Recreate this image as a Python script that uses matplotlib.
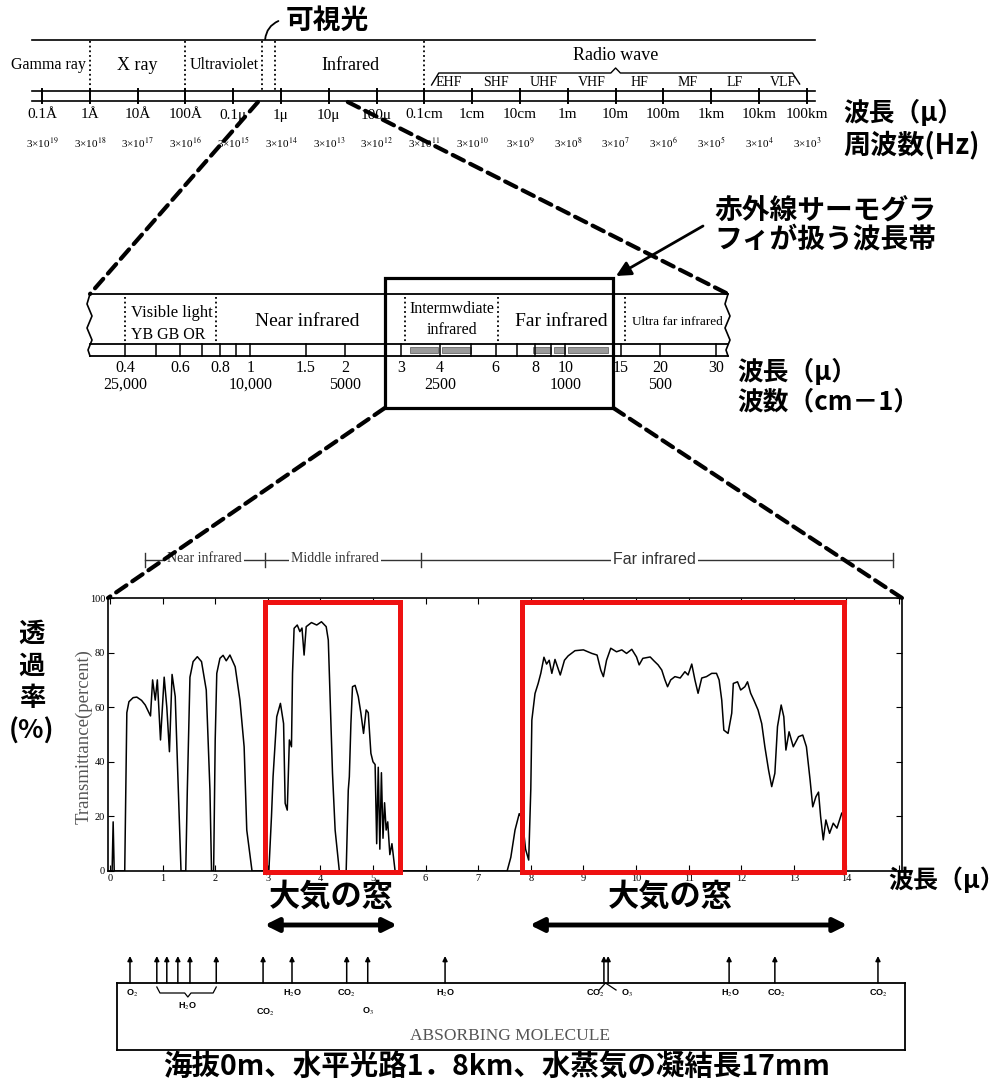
#!/usr/bin/env python3
"""Electromagnetic spectrum -> infrared band -> atmospheric transmittance -> out.png."""

import matplotlib
matplotlib.use("Agg")  # headless
import matplotlib.pyplot as plt
import matplotlib.transforms as mtransforms
from matplotlib.patches import Rectangle, FancyArrowPatch, ConnectionPatch

W, H = 1003, 1088
JP = ["Noto Sans CJK JP", "DejaVu Sans"]
SERIF = ["Liberation Serif", "DejaVu Serif"]
SANS = ["Liberation Sans", "DejaVu Sans"]
plt.rcParams["mathtext.fontset"] = "stix"

# --- top bar: whole spectrum (wavelength in metres)
spec_ticks_m = [1e-11, 1e-10, 1e-9, 1e-8, 1e-7, 1e-6, 1e-5, 1e-4, 1e-3,
                1e-2, 1e-1, 1e0, 1e1, 1e2, 1e3, 1e4, 1e5]
spec_tick_labels = ["0.1Å", "1Å", "10Å", "100Å", "0.1μ", "1μ", "10μ", "100μ",
                    "0.1cm", "1cm", "10cm", "1m", "10m", "100m", "1km", "10km", "100km"]
spec_freq_exp = [19, 18, 17, 16, 15, 14, 13, 12, 11, 10, 9, 8, 7, 6, 5, 4, 3]
spec_dividers_m = [1e-10, 1e-8, 4e-7, 7.5e-7, 1e-3]
spec_regions = ["Gamma ray", "X ray", "Ultraviolet", "Infrared", "Radio wave"]
spec_region_m = [1.35e-11, 1.0e-9, 6.5e-8, 2.8e-5, 10.0]
spec_region_size = [11.5, 13, 11.5, 13, 13]
radio_bands = ["EHF", "SHF", "UHF", "VHF", "HF", "MF", "LF", "VLF"]
radio_band_m = [10 ** -2.5, 10 ** -1.5, 10 ** -0.5, 10 ** 0.5,
                10 ** 1.5, 10 ** 2.5, 10 ** 3.5, 10 ** 4.5]

# --- middle bar: infrared (wavelength in micrometres)
ir_ticks = [0.4, 0.5, 0.6, 0.7, 0.8, 0.9, 1, 1.5, 2, 3, 4, 5, 6, 7, 8, 9, 10, 15, 20, 30]
ir_wl_labels = [0.4, 0.6, 0.8, 1, 1.5, 2, 3, 4, 6, 8, 10, 15, 20, 30]
ir_wn_at = [0.4, 1, 2, 4, 10, 20]
ir_wn_labels = ["25,000", "10,000", "5000", "2500", "1000", "500"]
ir_dividers = [0.4, 0.78, 3.1, 6.1, 15.5]
ir_windows = [(3.2, 3.95), (4.05, 5.0), (7.9, 9.0), (9.2, 10.0), (10.2, 13.6)]
ir_box = (2.67, 14.2)

# --- transmittance spectrum (sea level, 1.8 km path)
wl = [0.00, 0.04, 0.06, 0.08,
      0.28, 0.30, 0.32, 0.36, 0.44, 0.51, 0.60, 0.67, 0.74, 0.77,
      0.81, 0.86, 0.90, 0.96, 1.03, 1.08, 1.13, 1.18, 1.24, 1.30, 1.35,
      1.44, 1.47, 1.52, 1.58, 1.66, 1.74, 1.83, 1.90, 1.93,
      1.97, 2.00, 2.03, 2.09, 2.15, 2.21, 2.28, 2.38, 2.47, 2.55, 2.60, 2.70,
      3.02, 3.07, 3.10, 3.17, 3.24, 3.30, 3.33, 3.37, 3.41, 3.45, 3.47, 3.50,
      3.56, 3.61, 3.65, 3.69, 3.73, 3.83, 3.93, 4.02, 4.11, 4.15, 4.18, 4.23,
      4.28, 4.36,
      4.49, 4.53, 4.55, 4.58, 4.61, 4.66, 4.72, 4.77, 4.82, 4.87, 4.91, 4.96,
      5.00, 5.04, 5.07, 5.10, 5.13, 5.16, 5.19, 5.22, 5.25, 5.28, 5.32, 5.36, 5.42,
      7.55, 7.62, 7.70, 7.78, 7.84, 7.90, 7.96,
      8.00, 8.02, 8.08, 8.14, 8.19, 8.25, 8.30, 8.35, 8.40, 8.46, 8.56, 8.64,
      8.71, 8.84, 9.00, 9.16, 9.26, 9.33, 9.38, 9.44, 9.52, 9.63, 9.73, 9.82,
      9.92, 10.01, 10.06, 10.13, 10.27, 10.34, 10.42, 10.49, 10.55, 10.60,
      10.66, 10.74, 10.84, 10.93, 10.99, 11.06, 11.12, 11.18, 11.25, 11.34,
      11.44, 11.53, 11.58, 11.63, 11.67, 11.75, 11.82, 11.85, 11.93, 11.99,
      12.07, 12.12, 12.18, 12.24, 12.32, 12.39, 12.45, 12.52, 12.58, 12.64,
      12.69, 12.76, 12.81, 12.85, 12.91, 12.99, 13.09, 13.17, 13.24, 13.31,
      13.36, 13.42, 13.47, 13.51, 13.56, 13.61, 13.68, 13.75, 13.82, 13.91, 13.95]
tr = [0, 0, 18, 0,
      0, 30, 58, 62, 63.5, 63.7, 62.5, 60.8, 58, 56.8,
      70, 62.6, 70, 48, 71, 60, 43.7, 72, 63.9, 29.7, 0,
      0, 29.7, 71, 76.7, 78.5, 76.7, 66.3, 29.7, 0,
      0, 48, 72.4, 77.9, 79, 77, 79.1, 74.8, 62.6, 45.5, 15, 0,
      0, 20, 34.5, 56.5, 61.4, 54, 24.8, 22.3, 48, 45.5, 72.4, 88.9,
      90.1, 87.7, 89, 79.1, 89.5, 91, 90.1, 91.3, 89.5, 84.6, 66.3, 35.8,
      15, 0,
      0, 29.7, 34.5, 54, 67.5, 68, 63.9, 57.8, 50.4, 59, 58, 43.1,
      40, 39, 10, 38, 8, 36, 12, 25, 15, 18, 6, 10, 0,
      0, 5, 15, 21, 19, 8, 4,
      30, 55.3, 65, 68.7, 72.4, 78.3, 75.8, 77.2, 72.4, 77.5, 71.8, 77.2,
      78.8, 80.7, 81, 79.7, 79.1, 73.6, 71.2, 77.2, 81.6, 80.3, 81, 79.7,
      81.2, 78.4, 75.5, 77.9, 78.4, 77, 75.5, 73.6, 70, 67.5,
      70, 71.2, 70.7, 73, 71.8, 75.8, 70, 65.1, 70.7, 71.2,
      72.4, 72.4, 70, 62.6, 51.6, 50.4, 57.8, 68.7, 69.3, 66.3,
      67.5, 69.3, 65.1, 62.6, 59, 54, 45.5, 37, 30.9, 35.8,
      52.9, 60.8, 56.5, 44.3, 51, 45.5, 49.2, 49.8, 45.5, 33.3,
      23.5, 27.2, 28.9, 19.9, 11.4, 18.7, 13.8, 17.5, 15.7, 21.1, 22]
windows = [(2.95, 5.51), (7.83, 13.95)]
window_arrows = [(2.89, 5.51), (7.93, 14.07)]
window_label_at = [4.2, 10.65]
bands_edges = [0.67, 2.95, 5.91, 14.89]
bands_names = ["Near infrared", "Middle infrared", "Far infrared"]
bands_label_at = [1.8, 4.28, 10.36]

# --- absorbing molecules
mol_arrows = [0.38, 0.89, 1.08, 1.29, 1.52, 2.02, 2.91, 3.46, 4.5, 4.9,
              6.37, 9.39, 9.47, 11.77, 12.64, 14.6]
mol_names = ["O$_2$", "H$_2$O", "CO$_2$", "H$_2$O", "CO$_2$", "O$_3$", "H$_2$O",
             "CO$_2$", "O$_3$", "H$_2$O", "CO$_2$", "CO$_2$"]
mol_name_at = [0.42, 1.48, 2.95, 3.46, 4.5, 4.9, 6.37, 9.22, 9.83, 11.79, 12.66, 14.6]
mol_name_y = [993, 1006, 1012, 993, 993, 1011, 993, 993, 993, 993, 993, 993]

# chart pixel mapping: 0 µm at x=110 px, 52.6 px per µm
def px_to_wl(x):
    return (x - 110) / 52.6


fig = plt.figure(figsize=(W / 100, H / 100), dpi=100)
canvas = fig.add_axes([0, 0, 1, 1])
canvas.set_xlim(0, W)
canvas.set_ylim(H, 0)
canvas.axis("off")


def px_axes(x0, y0, x1, y1):
    a = fig.add_axes([x0 / W, 1 - y1 / H, (x1 - x0) / W, (y1 - y0) / H])
    a.patch.set_alpha(0)
    return a


def blend(a):
    return mtransforms.blended_transform_factory(a.transData, canvas.transData)


def hline(a, y, **kw):
    lo, hi = a.get_xlim()
    a.plot([lo, hi], [y, y], transform=blend(a), clip_on=False, **kw)


# ---------------- top bar ----------------
tb = px_axes(32, 91, 815, 101)
tb.set_xscale("log")
tb.set_xlim(10 ** (-11 - 10 / 47.8), 10 ** (-11 + 773 / 47.8))
tb.set_ylim(0, 1)
tb.axis("off")
T = blend(tb)
for y in (40, 91, 101):
    hline(tb, y, color="k", lw=1.2)
for m in spec_ticks_m:
    tb.plot([m, m], [89, 103], transform=T, color="k", lw=1.4, clip_on=False)
for d in spec_dividers_m:
    tb.plot([d, d], [41, 90], transform=T, color="k", lw=1.3,
            ls=(0, (1, 1.6)), clip_on=False)
for name, m, fs in zip(spec_regions, spec_region_m, spec_region_size):
    y = 56 if name == "Radio wave" else 65
    tb.text(m, y, name, transform=T, ha="center", va="center",
            fontsize=fs, family=SERIF)
for name, m in zip(radio_bands, radio_band_m):
    tb.text(m, 82, name, transform=T, ha="center", va="center",
            fontsize=10, family=SERIF)
brace_x = [10 ** -2.85, 10 ** -2.7, 10 ** 0.9, 10 ** 1.0, 10 ** 1.1, 10 ** 4.7, 10 ** 4.85]
brace_y = [85, 73, 73, 68, 73, 73, 84]
tb.plot(brace_x, brace_y, transform=T, color="k", lw=1.0, clip_on=False)
for m, lab, e in zip(spec_ticks_m, spec_tick_labels, spec_freq_exp):
    tb.text(m, 115, lab, transform=T, ha="center", va="center",
            fontsize=11, family=SERIF)
    tb.text(m, 143, "3×10$^{%d}$" % e, transform=T, ha="center", va="center",
            fontsize=8, family=SERIF)

canvas.text(843, 113, "波長（μ）", ha="left", va="center", fontsize=18.5,
            family=JP, fontweight="bold")
canvas.text(843, 145, "周波数(Hz)", ha="left", va="center", fontsize=19.5,
            family=JP, fontweight="bold")
canvas.text(286, 21, "可視光", ha="left", va="center", fontsize=20,
            family=JP, fontweight="bold")
canvas.add_patch(FancyArrowPatch((265, 42), (281, 20), arrowstyle="-",
                                 connectionstyle="arc3,rad=-0.35",
                                 color="k", lw=1.3))

# ---------------- middle bar ----------------
mb = px_axes(90, 344, 728, 356)
mb.set_xscale("log")
mb.set_xlim(0.3097, 32.8)
mb.set_ylim(0, 1)
mb.axis("off")
M = blend(mb)
for y in (294, 344, 356):
    hline(mb, y, color="k", lw=1.3)
for t in ir_ticks:
    mb.plot([t, t], [344, 356], transform=M, color="k", lw=1.1, clip_on=False)
for d in ir_dividers:
    mb.plot([d, d], [297, 343], transform=M, color="k", lw=1.3,
            ls=(0, (1, 1.6)), clip_on=False)
for a, b in ir_windows:
    mb.add_patch(Rectangle((a, 347), b - a, 6, transform=M, fc="#9a9a9a",
                           ec="#555555", lw=0.5, clip_on=False))
# torn edges
lo, hi = mb.get_xlim()
wavy = [(294, 0), (304, -3), (316, 2), (328, -3), (340, 2), (350, -2), (356, 0)]
for edge in (lo, hi):
    xs = [edge * 10 ** (dx / 315) for _, dx in wavy]
    mb.plot(xs, [y for y, _ in wavy], transform=M, color="k", lw=1.2, clip_on=False)

mb.text(0.562, 313, "Visible light", transform=M, ha="center", va="center",
        fontsize=12, family=SERIF)
mb.text(0.55, 335, "YB GB OR", transform=M, ha="center", va="center",
        fontsize=11.5, family=SERIF)
mb.text(1.52, 322, "Near infrared", transform=M, ha="center", va="center",
        fontsize=14, family=SERIF)
mb.text(4.37, 309, "Intermwdiate", transform=M, ha="center", va="center",
        fontsize=11.5, family=SERIF)
mb.text(4.37, 330, "infrared", transform=M, ha="center", va="center",
        fontsize=11.5, family=SERIF)
mb.text(9.68, 322, "Far infrared", transform=M, ha="center", va="center",
        fontsize=14, family=SERIF)
mb.text(22.6, 322, "Ultra far infrared", transform=M, ha="center", va="center",
        fontsize=9.5, family=SERIF)
for v in ir_wl_labels:
    mb.text(v, 368, "%g" % v, transform=M, ha="center", va="center",
            fontsize=11.5, family=SERIF)
for v, lab in zip(ir_wn_at, ir_wn_labels):
    mb.text(v, 385, lab, transform=M, ha="center", va="center",
            fontsize=11.5, family=SERIF)
mb.add_patch(Rectangle((ir_box[0], 278), ir_box[1] - ir_box[0], 130,
                       transform=M, fill=False, ec="k", lw=2.3, clip_on=False))

canvas.text(737, 372, "波長（μ）", ha="left", va="center", fontsize=18.5,
            family=JP, fontweight="bold")
canvas.text(737, 402, "波数（cm－1）", ha="left", va="center", fontsize=18.5,
            family=JP, fontweight="bold")
canvas.text(714, 211, "赤外線サーモグラ", ha="left", va="center", fontsize=20,
            family=JP, fontweight="bold")
canvas.text(714, 239, "フィが扱う波長帯", ha="left", va="center", fontsize=20,
            family=JP, fontweight="bold")
canvas.annotate("", xy=(616, 276), xytext=(703, 226),
                arrowprops=dict(arrowstyle="-|>", color="k", lw=2,
                                mutation_scale=22, shrinkA=0, shrinkB=0))

# ---------------- transmittance chart ----------------
ax = px_axes(108, 598, 902, 871)
ax.set_xlim(px_to_wl(108), px_to_wl(902))
ax.set_ylim(0, 100)
ax.plot(wl, tr, color="k", lw=1.1)
ax.set_xticks(range(0, 16))
ax.set_xticklabels([str(i) for i in range(0, 15)] + [""])
ax.set_yticks(range(0, 101, 20))
ax.tick_params(direction="in", top=True, right=True, length=4, width=0.8,
               labelsize=7.5, pad=2, labelfontfamily="Liberation Serif")
for s in ax.spines.values():
    s.set_linewidth(1.2)
for a, b in windows:
    ax.add_patch(Rectangle((a, -0.5), b - a, 99, fill=False, ec="#ee1111",
                           lw=3.6, clip_on=False, zorder=5))
canvas.text(84, 737, "Transmittance(percent)", rotation=90, ha="center",
            va="center", fontsize=13.5, family=SERIF, color="#555555")
canvas.text(32, 634, "透", ha="center", va="center", fontsize=19, family=JP, fontweight="bold")
canvas.text(32, 666, "過", ha="center", va="center", fontsize=19, family=JP, fontweight="bold")
canvas.text(32, 698, "率", ha="center", va="center", fontsize=19, family=JP, fontweight="bold")
canvas.text(32, 731, "(%)", ha="center", va="center", fontsize=19, family=JP, fontweight="bold")

A = blend(ax)
ax.plot([bands_edges[0], bands_edges[-1]], [560, 560], transform=A, color="#333333",
        lw=1.0, clip_on=False)
for e in bands_edges:
    ax.plot([e, e], [553, 567], transform=A, color="#333333", lw=1.0, clip_on=False)
for name, at in zip(bands_names, bands_label_at):
    fam = SANS if name == "Far infrared" else SERIF
    fs = 11.5 if name == "Far infrared" else 10
    ax.text(at, 559, name, transform=A, ha="center", va="center", fontsize=fs,
            family=fam, color="#333333",
            bbox=dict(fc="white", ec="none", pad=1.5))
for (a, b), at in zip(window_arrows, window_label_at):
    ax.add_patch(FancyArrowPatch((a, 925), (b, 925), transform=A,
                                 arrowstyle="<|-|>", mutation_scale=20, lw=3.5,
                                 color="k", clip_on=False))
    ax.text(at, 897, "大気の窓", transform=A, ha="center", va="center",
            fontsize=22.5, family=JP, fontweight="bold")
canvas.text(888, 880, "波長（μ）", ha="left", va="center", fontsize=18,
            family=JP, fontweight="bold")

# ---------------- zoom connectors ----------------
dash = dict(color="k", lw=3.0, linestyle=(0, (3, 1.7)))
for xa, ya, ta, xb, yb, tb_ in [
        (3.3e-7, 102, T, mb.get_xlim()[0], 294, M),
        (2.5e-5, 102, T, mb.get_xlim()[1], 294, M),
        (ir_box[0], 408, M, ax.get_xlim()[0], 100, ax.transData),
        (ir_box[1], 408, M, ax.get_xlim()[1], 100, ax.transData)]:
    fig.add_artist(ConnectionPatch((xa, ya), (xb, yb), coordsA=ta, coordsB=tb_, **dash))

# ---------------- absorbing molecules ----------------
mol = px_axes(117, 983, 905, 1050)
mol.set_xlim(px_to_wl(117), px_to_wl(905))
mol.set_ylim(0, 1)
mol.set_xticks([])
mol.set_yticks([])
for s in mol.spines.values():
    s.set_linewidth(1.3)
Q = blend(mol)
for m in mol_arrows:
    mol.annotate("", xy=(m, 956), xytext=(m, 983), xycoords=Q,
                 arrowprops=dict(arrowstyle="-|>", color="k", lw=1.1,
                                 mutation_scale=7, shrinkA=0, shrinkB=0))
for name, at, y in zip(mol_names, mol_name_at, mol_name_y):
    mol.text(at, y, name, transform=Q, ha="center", va="center", fontsize=6.5,
             family=SANS, fontweight="bold")
mol.plot([0.89, 0.95, 1.42, 1.48, 1.54, 1.96, 2.02], [987, 993, 993, 997, 993, 993, 987],
         transform=Q, color="k", lw=0.9, clip_on=False)
mol.plot([9.30, 9.42, 9.62], [990, 983, 990], transform=Q, color="k", lw=0.9, clip_on=False)
mol.text(7.6, 1036, "ABSORBING MOLECULE", transform=Q, ha="center", va="center",
         fontsize=12.5, family=SERIF, color="#555555")

canvas.text(497, 1068, "海抜0m、水平光路1．8km、水蒸気の凝結長17mm", ha="center",
            va="center", fontsize=20.5, family=JP, fontweight="bold")

fig.savefig("out.png", dpi=100)
